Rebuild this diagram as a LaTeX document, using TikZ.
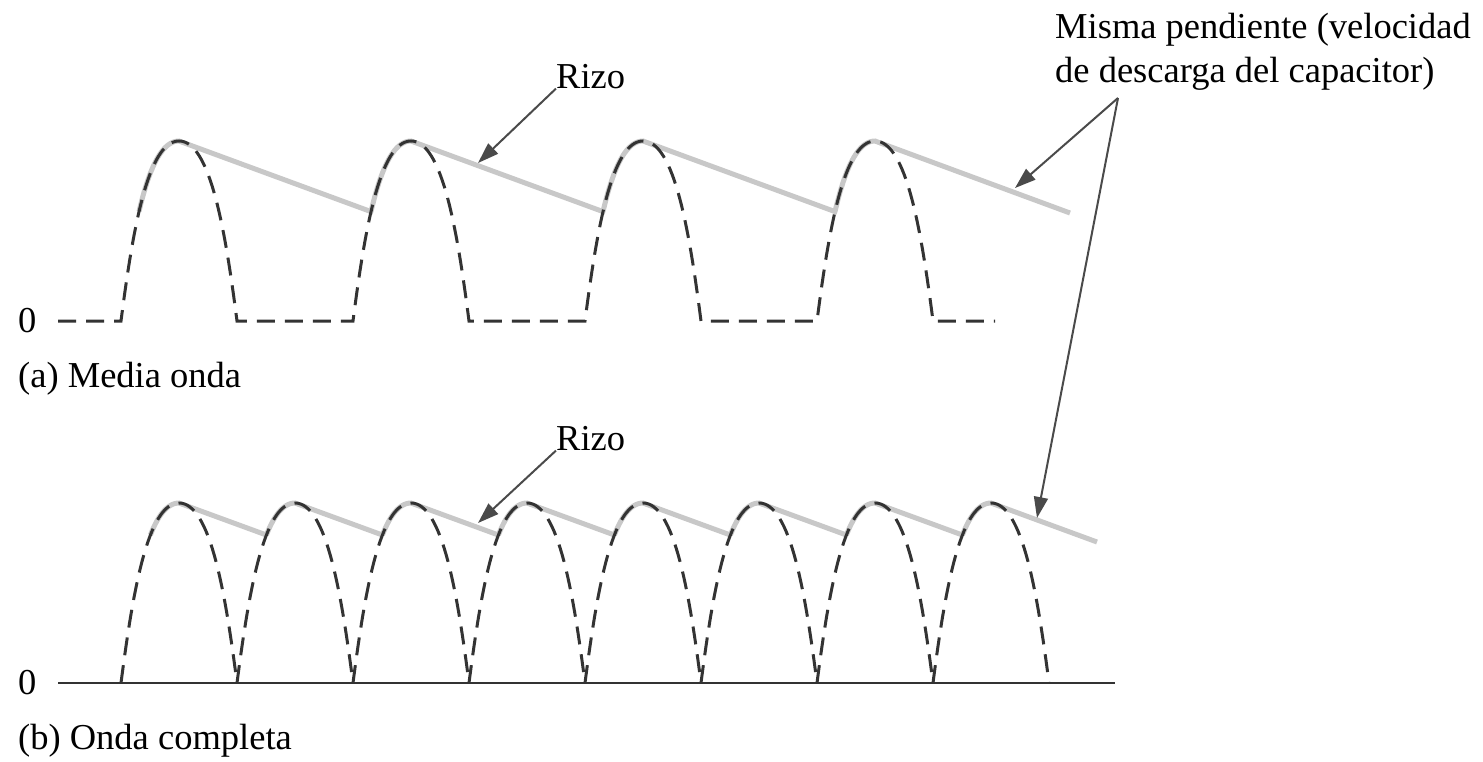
\documentclass[tikz,border=0pt]{standalone}
\usepackage{fontspec}
\setmainfont{Liberation Serif}
\usetikzlibrary{arrows.meta}
\definecolor{wavec}{HTML}{333333}
\definecolor{ripc}{HTML}{C8C8C8}
\definecolor{arrc}{HTML}{4A4A4A}
\begin{document}
\begin{tikzpicture}[x=1pt,y=-1pt,
  declare function={
    bx(\s)=3*(1-\s)*(1-\s)*\s*0.2+3*(1-\s)*\s*\s*0.46+\s*\s*\s;
    by(\s)=3*(1-\s)*(1-\s)*\s*0.5+3*(1-\s)*\s*\s+\s*\s*\s;},
  wave/.style={draw=wavec, line width=3pt, dash pattern=on 18pt off 10pt},
  ripple/.style={draw=ripc, line width=5pt},
  axisline/.style={draw=wavec, line width=2pt},
  lbl/.style={inner sep=0pt, anchor=base west, font=\fontsize{36.5}{44}\selectfont},
  pointer/.style={draw=arrc, line width=2pt, -{Triangle[length=21pt,width=14pt]}}]
\useasboundingbox (0,0) rectangle (1483,761);

% ---------- (a) half wave ----------
\draw[ripple] plot[domain=0.4324:1,samples=25] ({121+58*bx(\x)},{321-180*by(\x)})
  foreach \p in {411,643,875} { -- ({\p-40},211.6) -- plot[domain=0.4324:1,samples=25] ({\p-58+58*bx(\x)},{321-180*by(\x)}) }
  -- (1070,213);
\draw[wave] (58,321)
  foreach \p in {179,411,643,875} { -- ({\p-58},321) .. controls ({\p-46.4},231) and ({\p-31.3},141) .. (\p,141) .. controls ({\p+31.3},141) and ({\p+46.4},231) .. ({\p+58},321) }
  -- (995,321);

% ---------- (b) full wave ----------
\draw[axisline] (58,683) -- (1115,683);
\draw[ripple] plot[domain=0.632:1,samples=25] ({121+58*bx(\x)},{683-180*by(\x)})
  foreach \p in {295,411,527,643,759,875,991} { -- ({\p-28.6},535) -- plot[domain=0.632:1,samples=25] ({\p-58+58*bx(\x)},{683-180*by(\x)}) }
  -- (1097,542);
\foreach \p in {179,295,411,527,643,759,875,991}
  \draw[wave] ({\p-58},683) .. controls ({\p-46.4},593) and ({\p-31.3},503) .. (\p,503) .. controls ({\p+31.3},503) and ({\p+46.4},593) .. ({\p+58},683);

% ---------- labels ----------
\node[lbl] (zeroA) at (18,332) {0};
\node[lbl] (zeroB) at (18,694) {0};
\node[lbl] (capA) at (18,387) {(a) Media onda};
\node[lbl] (capB) at (18,749) {(b) Onda completa};
\node[lbl] (rizoA) at (556,88) {Rizo};
\node[lbl] (rizoB) at (556,450) {Rizo};
\node[lbl] (misma1) at (1055,38) {Misma pendiente (velocidad};
\node[lbl] (misma2) at (1055,82) {de descarga del capacitor)};

% ---------- pointers ----------
\coordinate (tipA) at (478,163);
\coordinate (tipB) at (478,523);
\coordinate (mfrom) at (1118,98);
\coordinate (tipC) at (1015,188);
\coordinate (tipD) at (1037,518);
\draw[pointer] (rizoA.south west) -- (tipA);
\draw[pointer] (rizoB.south west) -- (tipB);
\draw[pointer] (mfrom) -- (tipC);
\draw[pointer] (mfrom) -- (tipD);
\end{tikzpicture}
\end{document}
